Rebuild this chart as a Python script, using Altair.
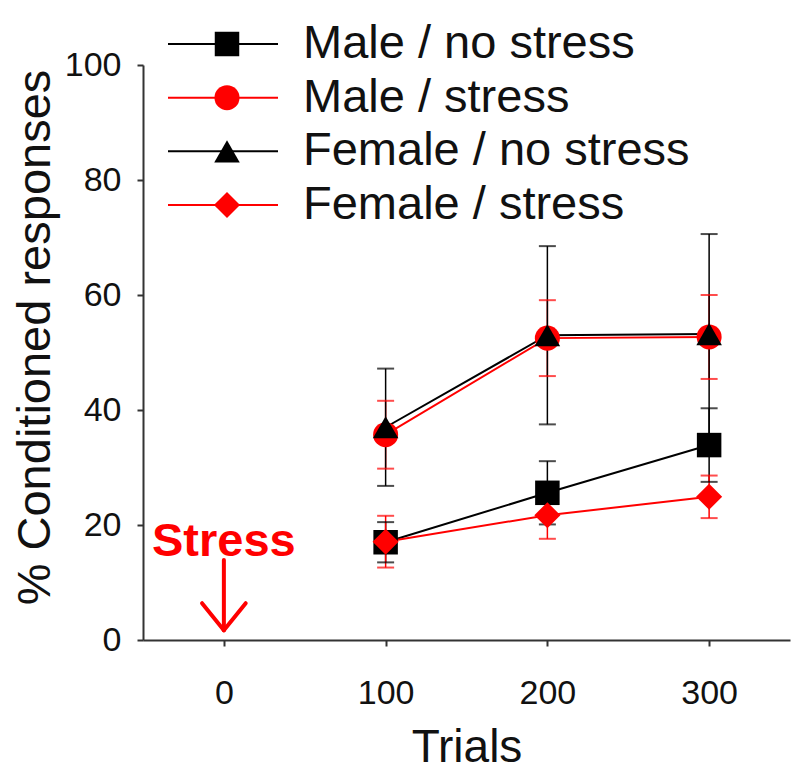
import altair as alt
import pandas as pd

# ---- data ----
series_names = ["Male / no stress", "Male / stress", "Female / no stress", "Female / stress"]
series_colors = ["#000000", "#ff0000", "#000000", "#ff0000"]
series_shapes = ["square", "circle", "triangle-up", "diamond"]
series_sizes = [600, 680, 720, 820]

trials = [100, 200, 300]
male_no_stress = [17.0, 25.6, 33.9]
male_no_stress_err = [3.5, 5.5, 6.4]
male_stress = [35.7, 52.5, 52.7]
male_stress_err = [5.9, 6.6, 7.3]
female_no_stress = [37.0, 53.0, 53.2]
female_no_stress_err = [10.2, 15.5, 17.4]
female_stress = [17.1, 21.7, 24.9]
female_stress_err = [4.5, 4.1, 3.7]

x_ticks = [0, 100, 200, 300]
y_ticks = [0, 20, 40, 60, 80, 100]

stress_label = "Stress"
stress_x = 0
stress_label_y = 14.6
arrow_shaft = [13.9, 1.7]       # y from, y to
arrow_head_dx = 13.5
arrow_head_y = 6.4

# ---- build tables ----
values = [male_no_stress, male_stress, female_no_stress, female_stress]
errors = [male_no_stress_err, male_stress_err, female_no_stress_err, female_stress_err]
rows = []
for s, vals, errs in zip(series_names, values, errors):
    for t, v, e in zip(trials, vals, errs):
        rows.append({"series": s, "trial": t, "value": v, "lo": v - e, "hi": v + e})
df = pd.DataFrame(rows)

color = alt.Color("series:N", scale=alt.Scale(domain=series_names, range=series_colors), legend=None)
shape = alt.Shape("series:N", scale=alt.Scale(domain=series_names, range=series_shapes), legend=None)
size = alt.Size("series:O", scale=alt.Scale(domain=series_names, range=series_sizes), legend=None)

xscale = alt.Scale(domain=[-50, 350], nice=False, zero=False)
yscale = alt.Scale(domain=[0, 100], nice=False)

x_enc = alt.X("trial:Q", scale=xscale, axis=alt.Axis(
    values=x_ticks, title="Trials", grid=False, tickSize=6, tickWidth=2,
    domainWidth=2, domainColor="#333333", tickColor="#333333",
    labelFontSize=34, labelFont="Liberation Sans", labelColor="#111111",
    labelBaseline="alphabetic", labelPadding=57,
    titleFontSize=46, titleFont="Liberation Sans", titleFontWeight="normal",
    titleColor="#111111", titleBaseline="alphabetic", titleY=121))
y_enc = alt.Y("value:Q", scale=yscale, axis=alt.Axis(
    values=y_ticks, title="% Conditioned responses", grid=False, tickSize=6, tickWidth=2,
    domainWidth=2, domainColor="#333333", tickColor="#333333",
    labelFontSize=34, labelFont="Liberation Sans", labelColor="#111111", labelPadding=16,
    titleFontSize=47, titleFont="Liberation Sans", titleFontWeight="normal",
    titleColor="#111111", titleAngle=270, titleAlign="center", titleBaseline="alphabetic",
    titleX=-94, titleY=272))

base = alt.Chart(df)

err_rules = base.mark_rule(strokeWidth=1.5).encode(
    x=x_enc, y=alt.Y("lo:Q", scale=yscale), y2="hi:Q", color=color)
cap_lo = base.mark_tick(orient="horizontal", size=17, thickness=2).encode(
    x="trial:Q", y=alt.Y("lo:Q", scale=yscale), color=color)
cap_hi = base.mark_tick(orient="horizontal", size=17, thickness=2).encode(
    x="trial:Q", y=alt.Y("hi:Q", scale=yscale), color=color)
lines = base.mark_line(strokeWidth=2).encode(x="trial:Q", y=y_enc, color=color, detail="series:N")
points = base.mark_point(filled=True, opacity=1).encode(
    x="trial:Q", y="value:Q", color=color, shape=shape, size=size)

# Stress annotation
ann_text = alt.Chart(pd.DataFrame({"x": [stress_x], "y": [stress_label_y], "t": [stress_label]})).mark_text(
    font="Liberation Sans", fontWeight="bold", fontSize=47, color="#ff0000",
    align="center", baseline="alphabetic").encode(x="x:Q", y="y:Q", text="t:N")
arrow_df = pd.DataFrame({
    "x": [stress_x, stress_x - arrow_head_dx, stress_x + arrow_head_dx],
    "y": [arrow_shaft[0], arrow_head_y, arrow_head_y],
    "x2": [stress_x, stress_x, stress_x],
    "y2": [arrow_shaft[1], arrow_shaft[1], arrow_shaft[1]],
})
arrow = alt.Chart(arrow_df).mark_rule(color="#ff0000", strokeWidth=4, strokeCap="round").encode(
    x="x:Q", y="y:Q", x2="x2:Q", y2="y2:Q")

main = alt.layer(err_rules, cap_lo, cap_hi, lines, points, ann_text, arrow)

# Legend (drawn as marks)
leg_df = pd.DataFrame({"series": series_names, "row": list(range(len(series_names)))})
leg_y = alt.Y("row:Q", scale=alt.Scale(domain=[0, 3], range=[-21, 140]), axis=None)
leg_base = alt.Chart(leg_df)
leg_line = leg_base.mark_rule(strokeWidth=2).encode(
    x=alt.value(25), x2=alt.value(135), y=leg_y, color=color)
leg_pt = leg_base.mark_point(filled=True, opacity=1).encode(
    x=alt.value(84), y=leg_y, color=color, shape=shape, size=size)
leg_txt = leg_base.mark_text(align="left", baseline="middle", fontSize=47,
                             font="Liberation Sans", color="#111111").encode(
    x=alt.value(160), y=leg_y, text="series:N")
legend = alt.layer(leg_line, leg_pt, leg_txt)

chart = alt.layer(main, legend).resolve_scale(y="independent", x="independent").properties(
    width=647, height=575,
    autosize=alt.AutoSizeParams(type="none"),
    padding={"left": 135, "top": 57, "right": 2, "bottom": 133},
).configure_view(stroke=None).configure_axis(grid=False)

chart.save("out.html", embed_options={"renderer": "svg", "actions": False})
